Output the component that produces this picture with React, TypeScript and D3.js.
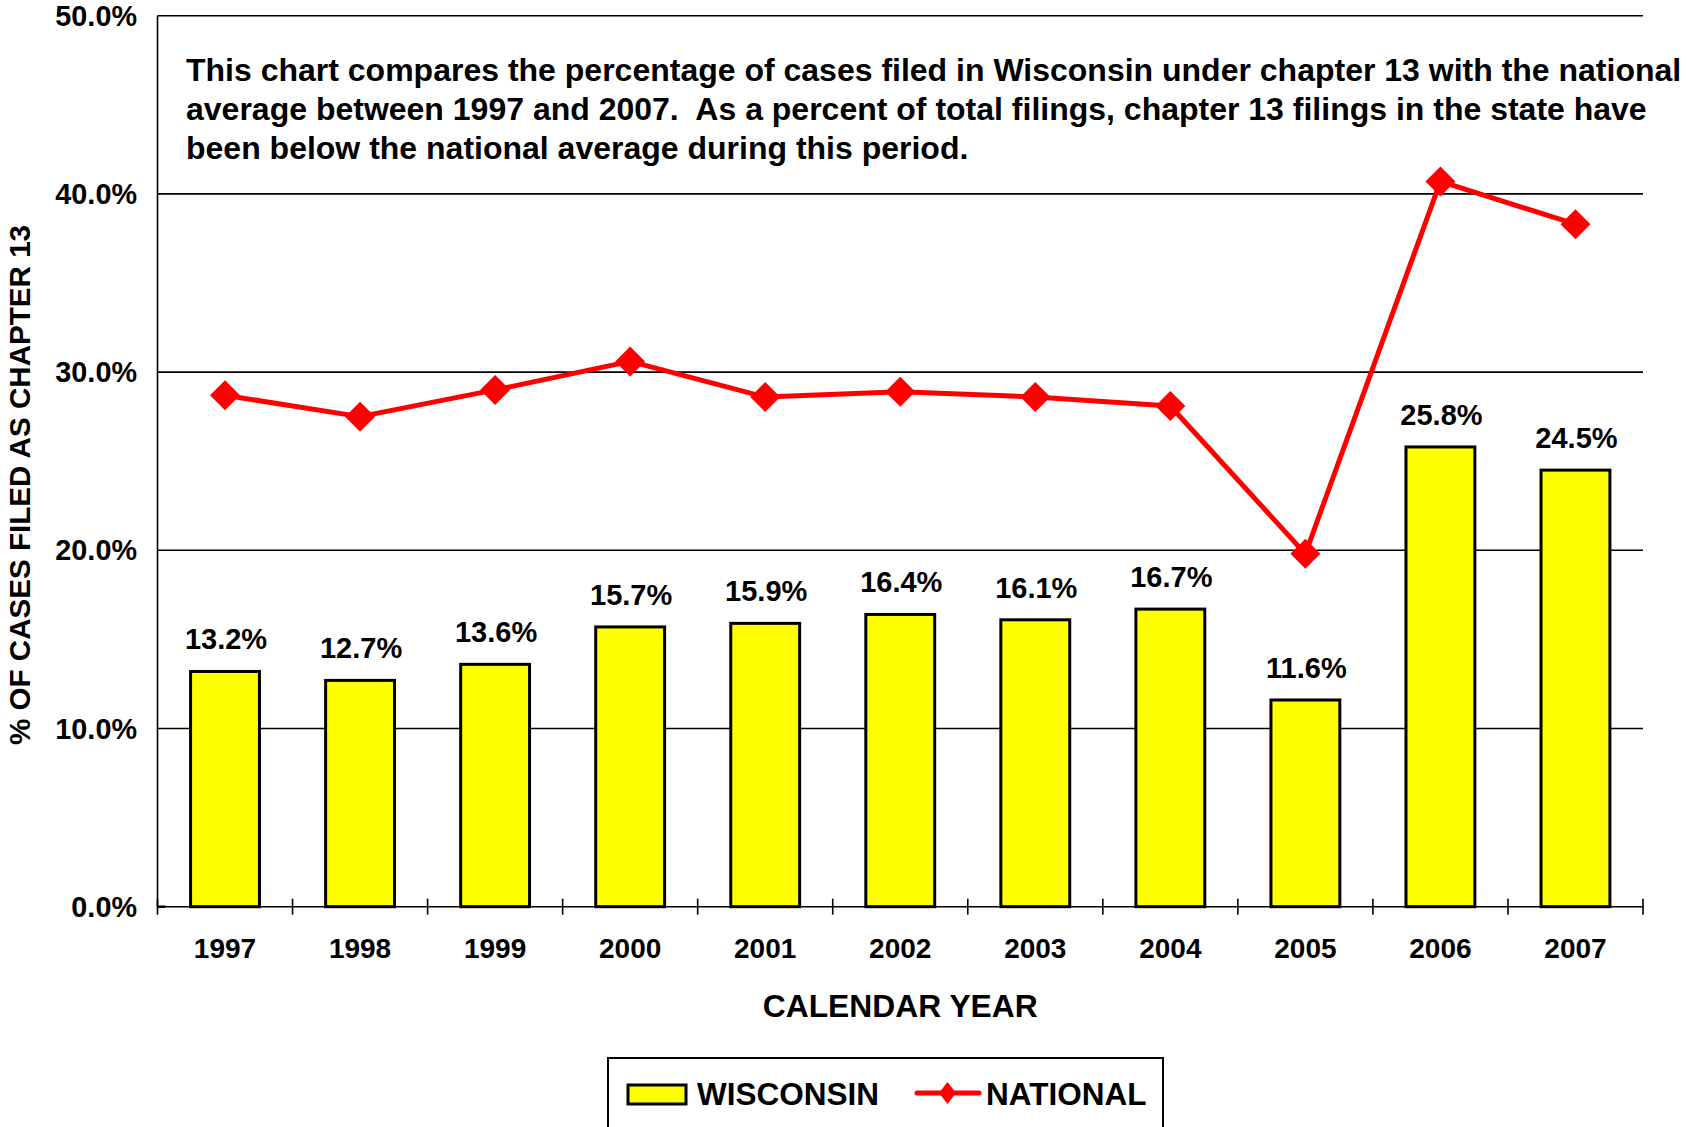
import { useEffect, useRef } from 'react';
import * as d3 from 'd3';

const years = ['1997', '1998', '1999', '2000', '2001', '2002', '2003', '2004', '2005', '2006', '2007'];
const wisconsin = [13.2, 12.7, 13.6, 15.7, 15.9, 16.4, 16.1, 16.7, 11.6, 25.8, 24.5];
const national = [28.7, 27.5, 29.0, 30.6, 28.6, 28.9, 28.6, 28.1, 19.8, 40.7, 38.3];
const yTicks = [0, 10, 20, 30, 40, 50];
const noteLines = [
  'This chart compares the percentage of cases filed in Wisconsin under chapter 13 with the national',
  'average between 1997 and 2007.  As a percent of total filings, chapter 13 filings in the state have',
  'been below the national average during this period.',
];

const FONT = '"Liberation Sans", Arial, sans-serif';

export default function App() {
  const svgRef = useRef<SVGSVGElement>(null);

  useEffect(() => {
    if (!svgRef.current) return;
    const W = 1687, H = 1127;
    const left = 157.5, right = 1643, top = 15.7, bottom = 906.7;

    const svg = d3.select(svgRef.current);
    svg.selectAll('*').remove();
    svg.attr('width', W).attr('height', H);

    const x = d3.scaleBand<string>().domain(years).range([left, right]).padding(0);
    const y = d3.scaleLinear().domain([0, 50]).range([bottom, top]);
    const barW = x.bandwidth() * 0.51;

    // gridlines
    svg.append('g')
      .selectAll('line')
      .data(yTicks.filter(t => t > 0))
      .join('line')
      .attr('x1', left)
      .attr('x2', right)
      .attr('y1', d => y(d))
      .attr('y2', d => y(d))
      .attr('stroke', '#000')
      .attr('stroke-width', 1.6);

    // y tick labels
    svg.append('g')
      .selectAll('text')
      .data(yTicks)
      .join('text')
      .attr('x', 137)
      .attr('y', d => y(d) + 10)
      .attr('text-anchor', 'end')
      .attr('font-family', FONT)
      .attr('font-weight', 'bold')
      .attr('font-size', 28.8)
      .text(d => d.toFixed(1) + '%');

    // note text
    svg.append('g')
      .selectAll('text')
      .data(noteLines)
      .join('text')
      .attr('x', 186)
      .attr('y', (_, i) => 81 + i * 39)
      .attr('font-family', FONT)
      .attr('font-weight', 'bold')
      .attr('font-size', 32)
      .style('white-space', 'pre')
      .text(d => d);

    // bars
    svg.append('g')
      .selectAll('rect')
      .data(years)
      .join('rect')
      .attr('x', d => x(d)! + (x.bandwidth() - barW) / 2)
      .attr('y', (_, i) => y(wisconsin[i]))
      .attr('width', barW)
      .attr('height', (_, i) => bottom - y(wisconsin[i]))
      .attr('fill', '#FFFF00')
      .attr('stroke', '#000')
      .attr('stroke-width', 3);

    // bar labels
    svg.append('g')
      .selectAll('text')
      .data(years)
      .join('text')
      .attr('x', d => x(d)! + x.bandwidth() / 2 + 1)
      .attr('y', (_, i) => y(wisconsin[i]) - 22)
      .attr('text-anchor', 'middle')
      .attr('font-family', FONT)
      .attr('font-weight', 'bold')
      .attr('font-size', 29)
      .text((_, i) => wisconsin[i].toFixed(1) + '%');

    // axes
    svg.append('line')
      .attr('x1', left).attr('x2', left)
      .attr('y1', top).attr('y2', bottom)
      .attr('stroke', '#000').attr('stroke-width', 1.6);
    svg.append('line')
      .attr('x1', left).attr('x2', right)
      .attr('y1', bottom).attr('y2', bottom)
      .attr('stroke', '#000').attr('stroke-width', 1.6);
    svg.append('line')
      .attr('x1', left).attr('x2', left + 8)
      .attr('y1', bottom).attr('y2', bottom)
      .attr('stroke', '#000').attr('stroke-width', 2.5);

    const bounds = years.map(d => x(d)!).concat([right]);
    svg.append('g')
      .selectAll('line')
      .data(bounds)
      .join('line')
      .attr('x1', d => d).attr('x2', d => d)
      .attr('y1', bottom - 8).attr('y2', bottom + 8)
      .attr('stroke', '#000').attr('stroke-width', 1.6);

    // x labels
    svg.append('g')
      .selectAll('text')
      .data(years)
      .join('text')
      .attr('x', d => x(d)! + x.bandwidth() / 2)
      .attr('y', 958)
      .attr('text-anchor', 'middle')
      .attr('font-family', FONT)
      .attr('font-weight', 'bold')
      .attr('font-size', 28)
      .text(d => d);

    // national line
    const line = d3.line<number>()
      .x((_, i) => x(years[i])! + x.bandwidth() / 2)
      .y(d => y(d));
    svg.append('path')
      .datum(national)
      .attr('d', line)
      .attr('fill', 'none')
      .attr('stroke', '#FF0000')
      .attr('stroke-width', 5)
      .attr('stroke-linejoin', 'round');

    const diamond = d3.symbol(d3.symbolSquare, 450);
    svg.append('g')
      .selectAll('path')
      .data(national)
      .join('path')
      .attr('d', diamond)
      .attr('transform', (d, i) => `translate(${x(years[i])! + x.bandwidth() / 2},${y(d)}) rotate(45)`)
      .attr('fill', '#FF0000');

    // axis titles
    svg.append('text')
      .attr('transform', `translate(30,485) rotate(-90)`)
      .attr('text-anchor', 'middle')
      .attr('font-family', FONT)
      .attr('font-weight', 'bold')
      .attr('font-size', 29.6)
      .text('% OF CASES FILED AS CHAPTER 13');

    svg.append('text')
      .attr('x', (left + right) / 2)
      .attr('y', 1017)
      .attr('text-anchor', 'middle')
      .attr('font-family', FONT)
      .attr('font-weight', 'bold')
      .attr('font-size', 31.8)
      .text('CALENDAR YEAR');

    // legend
    const lg = svg.append('g');
    lg.append('rect')
      .attr('x', 608).attr('y', 1058)
      .attr('width', 555).attr('height', 100)
      .attr('fill', '#fff').attr('stroke', '#000').attr('stroke-width', 2);
    lg.append('rect')
      .attr('x', 628).attr('y', 1085)
      .attr('width', 58).attr('height', 19)
      .attr('fill', '#FFFF00').attr('stroke', '#000').attr('stroke-width', 3);
    lg.append('text')
      .attr('x', 697).attr('y', 1105)
      .attr('font-family', FONT).attr('font-weight', 'bold').attr('font-size', 31.5)
      .text('WISCONSIN');
    lg.append('line')
      .attr('x1', 917).attr('x2', 979)
      .attr('y1', 1093).attr('y2', 1093)
      .attr('stroke', '#FF0000').attr('stroke-width', 5).attr('stroke-linecap', 'round');
    lg.append('path')
      .attr('d', 'M947.5,1082 L956,1093 L947.5,1104 L939,1093 Z')
      .attr('fill', '#FF0000');
    lg.append('text')
      .attr('x', 986).attr('y', 1105)
      .attr('font-family', FONT).attr('font-weight', 'bold').attr('font-size', 31.5)
      .text('NATIONAL');
  }, []);

  return (
    <div style={{ position: 'absolute', left: 0, top: 0, background: '#fff' }}>
      <svg ref={svgRef} style={{ display: 'block' }} />
    </div>
  );
}
